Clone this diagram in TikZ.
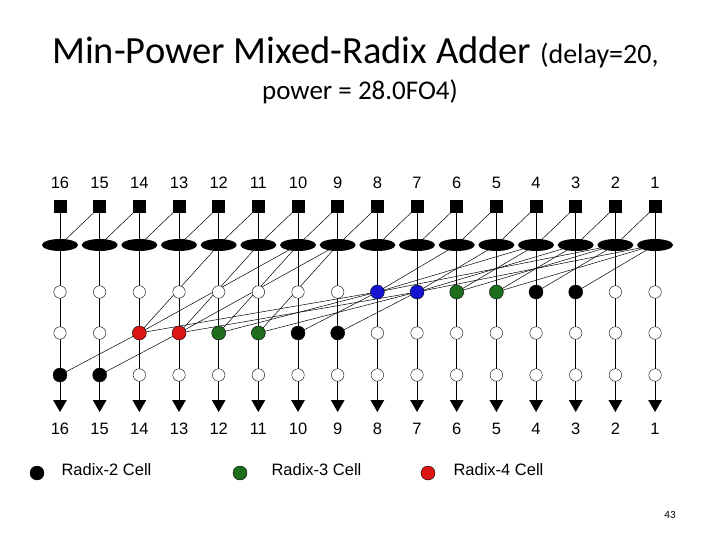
\documentclass[tikz,border=0pt]{standalone}
\usepackage{fontspec}
\setmainfont{Carlito}
\newfontfamily\arialf{Liberation Sans}
\usetikzlibrary{shapes.geometric}
\definecolor{cred}{RGB}{220,20,20}
\definecolor{cgreen}{RGB}{30,110,30}
\definecolor{cblue}{RGB}{20,20,210}
\begin{document}
\begin{tikzpicture}[x=1pt,y=-1pt,
 sq/.style={fill=black,minimum size=13pt,inner sep=0pt},
 ell/.style={ellipse,fill=black,minimum width=36pt,minimum height=12pt,inner sep=0pt},
 open/.style={circle,draw=black,fill=white,minimum size=12.5pt,inner sep=0pt},
 cell/.style={circle,draw=black,fill=#1,minimum size=14pt,inner sep=0pt},
 tri/.style={isosceles triangle,shape border rotate=-90,isosceles triangle apex angle=60,fill=black,minimum height=12pt,inner sep=0pt},
 lab/.style={font=\arialf\fontsize{16.5}{16.5}\selectfont},
 wire/.style={line width=0.5pt}]
\useasboundingbox (0,0) rectangle (720,540);
\node[font=\fontsize{38.5}{38.5}\selectfont,anchor=base west,inner sep=0pt] (t1) at (52,64) {Min-Power Mixed-Radix Adder \fontsize{28}{28}\selectfont(delay=20,};
\node[font=\fontsize{27}{27}\selectfont,anchor=base,inner sep=0pt] (t2) at (360,100) {power = 28.0FO4)};
\foreach \c in {1,...,16}{
 \pgfmathsetmacro{\xx}{60+(16-\c)*39.67}
 \coordinate (s\c) at (\xx,207);
 \coordinate (e\c) at (\xx,245);
 \coordinate (a\c) at (\xx,292);
 \coordinate (b\c) at (\xx,333);
 \coordinate (d\c) at (\xx,375);
 \coordinate (o\c) at (\xx,404);
 \draw[wire] (s\c) -- (o\c);
 \node[lab] (tl\c) at (\xx,183) {\c};
 \node[lab] (bl\c) at (\xx,429) {\c};
}
\foreach \c [evaluate=\c as \p using int(\c-1)] in {2,...,16}{ \draw[wire] (e\c) -- (s\p); }
% row 1
\foreach \c/\t in {3/1,4/2,5/3,5/1,6/4,6/2,7/5,7/3,7/1,8/6,8/4,8/2}{ \draw[wire] (a\c) -- (e\t); }
% row 2
\foreach \c/\t in {11/e9,12/e10,13/e11,13/e9,14/e12,14/e10}{ \draw[wire] (b\c) -- (\t); }
\foreach \c/\t in {9/7,10/8,11/7,12/8,13/7,14/8}{ \draw[wire] (b\c) -- (a\t); }
% row 3
\draw[wire] (d15) -- (b13);
\draw[wire] (d16) -- (b14);
\foreach \c in {1,...,16}{
 \node[sq] (S\c) at (s\c) {};
 \node[ell] (E\c) at (e\c) {};
 \node[tri] (T\c) at (o\c) {};
}
\foreach \c in {1,2,9,10,11,12,13,14,15,16}{ \node[open] (A\c) at (a\c) {}; }
\foreach \c in {1,...,8,15,16}{ \node[open] (B\c) at (b\c) {}; }
\foreach \c in {1,...,14}{ \node[open] (D\c) at (d\c) {}; }
\node[cell=black] (A3) at (a3) {};
\node[cell=black] (A4) at (a4) {};
\node[cell=cgreen] (A5) at (a5) {};
\node[cell=cgreen] (A6) at (a6) {};
\node[cell=cblue] (A7) at (a7) {};
\node[cell=cblue] (A8) at (a8) {};
\node[cell=black] (B9) at (b9) {};
\node[cell=black] (B10) at (b10) {};
\node[cell=cgreen] (B11) at (b11) {};
\node[cell=cgreen] (B12) at (b12) {};
\node[cell=cred] (B13) at (b13) {};
\node[cell=cred] (B14) at (b14) {};
\node[cell=black] (D15) at (d15) {};
\node[cell=black] (D16) at (d16) {};
% legend
\node[cell=black] (L2) at (37,473) {};
\node[lab,anchor=west] (L2t) at (58,470) {Radix-2 Cell};
\node[cell=cgreen] (L3) at (240,473) {};
\node[lab,anchor=west] (L3t) at (268,470) {Radix-3 Cell};
\node[cell=cred] (L4) at (428,473) {};
\node[lab,anchor=west] (L4t) at (450,470) {Radix-4 Cell};
\node[font=\fontsize{11}{11}\selectfont] (pg) at (670,515) {43};
\end{tikzpicture}
\end{document}
